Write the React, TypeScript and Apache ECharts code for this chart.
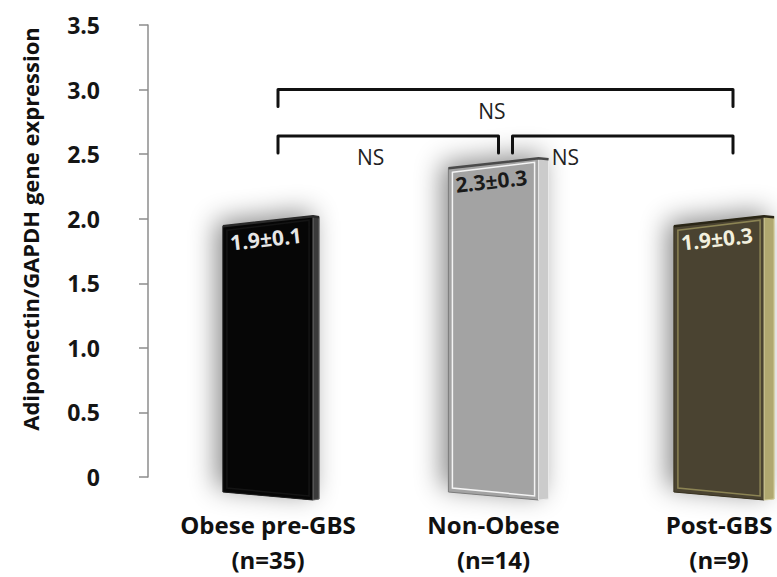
import React, { useEffect, useRef } from 'react';
import * as echarts from 'echarts';

// ---- data ----
const categories = ['Obese pre-GBS', 'Non-Obese', 'Post-GBS'];
const sampleSizes = [35, 14, 9];
const means = [1.9, 2.3, 1.9];
const sems = [0.1, 0.3, 0.3];
const yMin = 0;
const yMax = 3.5;
const yInterval = 0.5;
const bracketFrom = [0, 1, 0];
const bracketTo = [1, 2, 2];
const bracketLevel = [2.64, 2.64, 3.0];
const bracketText = ['NS', 'NS', 'NS'];

// ---- styles ----
const NS_POS = [0.42, 0.24, 0.47];
const SIDE_W = [6, 10, 10];
const BAR_STYLES = [
  { front: '#060606', edge: '#1e1e1e', side: '#3a3a3a', sideEdge: '#6a6a6a', inner: '#141414', rim: '#2a2a2a', text: '#e6e6e6' },
  { front: '#a3a3a3', edge: '#7c7c7c', side: '#cbcbcb', sideEdge: '#ededed', inner: '#f4f4f4', rim: '#4a4a4a', text: '#1a1a1a' },
  { front: '#4a4331', edge: '#3a3422', side: '#b0a870', sideEdge: '#d8d2a0', inner: '#8c8454', rim: '#2a2616', text: '#f2f0de' },
];
const FONT = '"Open Sans", "Noto Sans", sans-serif';

export default function App() {
  const ref = useRef<HTMLDivElement>(null);

  useEffect(() => {
    if (!ref.current) return;
    const chart = echarts.init(ref.current, undefined, { renderer: 'svg' });

    const renderBar = (params: any, api: any) => {
      const i = params.dataIndex;
      const idx = api.value(0);
      const v = api.value(1);
      const bw = api.size([1, 0])[0];
      const p0 = api.coord([idx, 0]);
      const pv = api.coord([idx, v]);
      const cx = p0[0];
      const half = bw * 0.2;
      const xL = cx - half;
      const xR = cx + half;
      const yBot = p0[1] + 19;
      const yTop = yBot - (p0[1] - pv[1]) * 1.12;
      const tilt = 5;
      const tiltB = 4;
      const yTL = yTop + tilt;
      const yTR = yTop - tilt;
      const yBL = yBot - tiltB;
      const yBR = yBot + tiltB;
      const sw = SIDE_W[i];
      const s = BAR_STYLES[i];
      const ins = 4;
      return {
        type: 'group',
        children: [
          {
            type: 'polygon',
            shape: { points: [[xL, yTL], [xR, yTR], [xR + sw, yTR + 1], [xR + sw, yBR - 1], [xR, yBR], [xL, yBL]] },
            style: { fill: s.front, shadowBlur: 26, shadowColor: 'rgba(0,0,0,0.45)', shadowOffsetX: -7, shadowOffsetY: -5 },
          },
          {
            type: 'polygon',
            shape: { points: [[xL, yTL], [xR, yTR], [xR, yBR], [xL, yBL]] },
            style: { fill: s.front, stroke: s.edge, lineWidth: 1 },
          },
          {
            type: 'polygon',
            shape: { points: [[xR, yTR], [xR + sw, yTR + 1], [xR + sw, yBR - 1], [xR, yBR]] },
            style: { fill: s.side, stroke: s.sideEdge, lineWidth: 1 },
          },
          {
            type: 'polygon',
            shape: { points: [[xL + ins, yTL + ins], [xR - ins, yTR + ins], [xR - ins, yBR - ins], [xL + ins, yBL - ins]] },
            style: { fill: 'none', stroke: s.inner, lineWidth: 1.5 },
          },
          {
            type: 'polyline',
            shape: { points: [[xL, yTL], [xR, yTR], [xR + sw, yTR + 1]] },
            style: { fill: 'none', stroke: s.rim, lineWidth: 2.5 },
          },
          {
            type: 'text',
            x: xL + 6,
            y: yTL + 6,
            rotation: Math.atan2(2 * tilt, xR - xL),
            style: {
              text: `${means[i].toFixed(1)}±${sems[i].toFixed(1)}`,
              x: 0,
              y: 0,
              fill: s.text,
              font: `bold 21px ${FONT}`,
              align: 'left',
              verticalAlign: 'top',
            },
          },
        ],
      };
    };

    const renderBracket = (params: any, api: any) => {
      const k = params.dataIndex;
      const from = api.value(0);
      const to = api.value(1);
      const lvl = api.value(2);
      const a = api.coord([from, lvl]);
      const b = api.coord([to, lvl]);
      const sharedL = bracketTo.some((t, j) => j !== k && t === from && bracketLevel[j] === lvl);
      const sharedR = bracketFrom.some((f, j) => j !== k && f === to && bracketLevel[j] === lvl);
      const x1 = a[0] + 10 + (sharedL ? 9 : 0);
      const x2 = b[0] + 14 - (sharedR ? 9 : 0);
      const y = a[1];
      const leg = 17;
      return {
        type: 'group',
        children: [
          {
            type: 'polyline',
            shape: { points: [[x1, y + leg], [x1, y], [x2, y], [x2, y + leg]] },
            style: { fill: 'none', stroke: '#111', lineWidth: 3, lineJoin: 'round', lineCap: 'round' },
          },
          {
            type: 'text',
            style: {
              text: bracketText[k],
              x: x1 + (x2 - x1) * NS_POS[k],
              y: y + 21,
              align: 'center',
              verticalAlign: 'middle',
              font: `21px ${FONT}`,
              fill: '#222',
            },
          },
        ],
      };
    };

    chart.setOption({
      animation: false,
      backgroundColor: '#ffffff',
      grid: { left: 268, right: 58, top: 25, bottom: 94 },
      xAxis: {
        type: 'category',
        data: categories,
        boundaryGap: false,
        axisLine: { show: false },
        axisTick: { show: false },
        splitLine: { show: false },
        axisLabel: {
          interval: 0,
          margin: 30,
          fontSize: 24,
          fontWeight: 'bold',
          fontFamily: FONT,
          color: '#111',
          lineHeight: 35,
          formatter: (val: string, i: number) => `${val}\n(n=${sampleSizes[i]})`,
        },
      },
      yAxis: {
        type: 'value',
        min: yMin,
        max: yMax,
        interval: yInterval,
        offset: 120,
        name: 'Adiponectin/GAPDH gene expression',
        nameLocation: 'middle',
        nameRotate: 90,
        nameGap: 107,
        nameTextStyle: { fontSize: 22, fontWeight: 'bold', fontFamily: FONT, color: '#111', padding: [0, 0, 0, 44] },
        axisLine: { show: true, lineStyle: { color: '#8c8c8c', width: 1.5 } },
        axisTick: { show: true, length: 9, lineStyle: { color: '#8c8c8c', width: 1.5 } },
        splitLine: { show: false },
        axisLabel: {
          margin: 48,
          fontSize: 23,
          fontWeight: 'bold',
          fontFamily: FONT,
          color: '#151515',
          formatter: (v: number) => (v === 0 ? '0' : v.toFixed(1)),
        },
      },
      series: [
        {
          type: 'custom',
          coordinateSystem: 'cartesian2d',
          clip: false,
          renderItem: renderBar,
          encode: { x: 0, y: 1 },
          data: categories.map((_, i) => [i, means[i]]),
          z: 2,
        },
        {
          type: 'custom',
          coordinateSystem: 'cartesian2d',
          clip: false,
          renderItem: renderBracket,
          encode: { x: 0, y: 2 },
          data: bracketFrom.map((f, i) => [f, bracketTo[i], bracketLevel[i]]),
          z: 3,
        },
      ],
    });

    return () => chart.dispose();
  }, []);

  return (
    <div
      ref={ref}
      style={{ position: 'absolute', left: 0, top: 0, width: 777, height: 577, background: '#fff' }}
    />
  );
}
